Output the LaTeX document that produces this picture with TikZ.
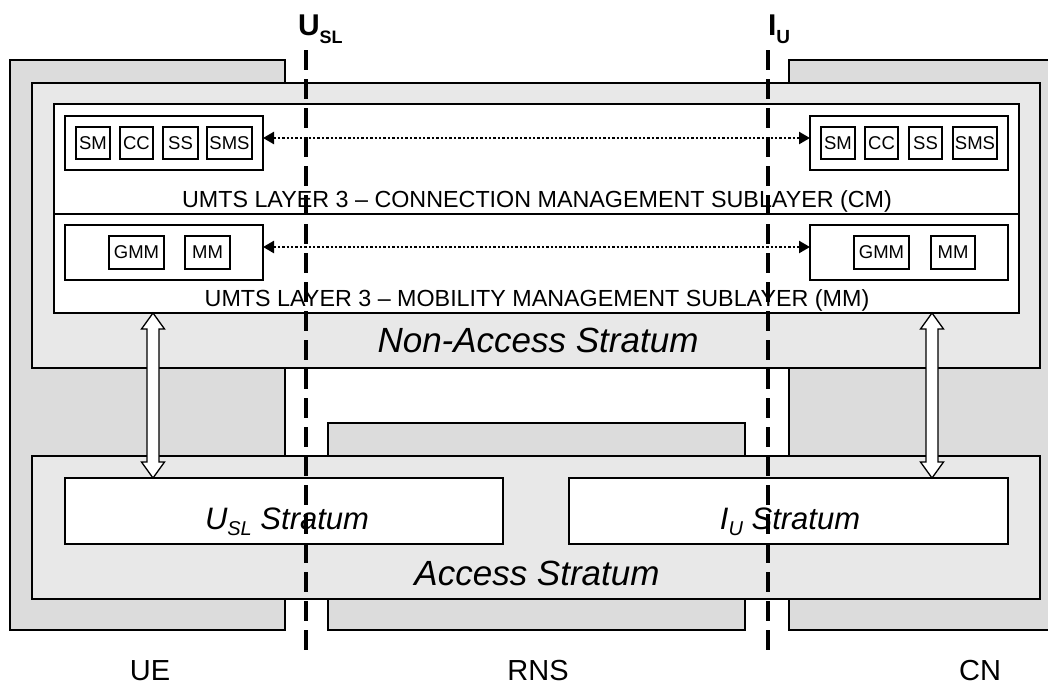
\documentclass[tikz,border=0pt]{standalone}
\usepackage{fontspec}
\setmainfont{Liberation Sans}
\usetikzlibrary{calc,arrows.meta}
\definecolor{outerg}{HTML}{DCDCDC}
\definecolor{innerg}{HTML}{E8E8E8}
\newcommand\hollowarr[2]{%
  \draw[hollow] (#1) -- ($(#1)+(11.5,16)$) -- ($(#1)+(6,16)$) -- ($(#2)+(6,-16)$) -- ($(#2)+(11.5,-16)$) -- (#2)
    -- ($(#2)+(-11.5,-16)$) -- ($(#2)+(-6,-16)$) -- ($(#1)+(-6,16)$) -- ($(#1)+(-11.5,16)$) -- cycle;}
\begin{document}
\begin{tikzpicture}[x=1pt,y=-1pt,
  every node/.style={inner sep=0pt,outer sep=0pt},
  region/.style={draw,line width=2pt,fill=outerg,anchor=north west},
  stratumbox/.style={draw,line width=2pt,fill=innerg,anchor=north west},
  panel/.style={draw,line width=1.4pt,fill=white,anchor=north west},
  ent/.style={draw,line width=1.2pt,fill=white,anchor=north west,minimum height=32pt,font=\fontsize{18.5}{18}\selectfont},
  layertxt/.style={anchor=base,font=\fontsize{23.3}{27}\selectfont},
  bigital/.style={anchor=base,font=\fontsize{35}{40}\selectfont\itshape},
  midital/.style={anchor=base,font=\fontsize{31}{36}\selectfont\itshape},
  place/.style={anchor=base,font=\fontsize{29}{34}\selectfont},
  iftitle/.style={anchor=base west,font=\fontsize{30}{34}\selectfont\bfseries},
  dotarrow/.style={line width=2.4pt,dash pattern=on 2.4pt off 2pt,{Triangle[length=11pt,width=12pt]}-{Triangle[length=11pt,width=12pt]}},
  hollow/.style={draw,line width=1.3pt,fill=white,line join=miter},
  divider/.style={line width=4.7pt,dash pattern=on 20pt off 9pt}]
\useasboundingbox (0,0) rectangle (1048,686);
% domains
\node[region,minimum width=275pt,minimum height=570pt] (ue) at (10,60) {};
\node[region,minimum width=275pt,minimum height=570pt] (cn) at (789,60) {};
\node[region,minimum width=417pt,minimum height=207pt] (rns) at (328,423) {};
% strata
\node[stratumbox,minimum width=1008pt,minimum height=285pt] (nas) at (32,83) {};
\node[stratumbox,minimum width=1008pt,minimum height=143pt] (as) at (32,456) {};
% CM / MM sublayers
\node[panel,minimum width=965pt,minimum height=110pt] (cm) at (54,104) {};
\node[panel,minimum width=965pt,minimum height=99pt] (mm) at (54,214) {};
\node[panel,minimum width=198pt,minimum height=54pt] (cmL) at (65,116) {};
\node[panel,minimum width=198pt,minimum height=54pt] (cmR) at (810,116) {};
\node[panel,minimum width=198pt,minimum height=55pt] (mmL) at (65,225) {};
\node[panel,minimum width=198pt,minimum height=55pt] (mmR) at (810,225) {};
% entities
\node[ent,minimum width=34pt] (smL) at (76,127) {SM};
\node[ent,minimum width=33pt] (ccL) at (120,127) {CC};
\node[ent,minimum width=35pt] (ssL) at (163,127) {SS};
\node[ent,minimum width=45pt] (smsL) at (207,127) {SMS};
\node[ent,minimum width=34pt] (smR) at (821,127) {SM};
\node[ent,minimum width=33pt] (ccR) at (865,127) {CC};
\node[ent,minimum width=33pt] (ssR) at (909,127) {SS};
\node[ent,minimum width=44pt] (smsR) at (953,127) {SMS};
\node[ent,minimum width=55pt,minimum height=33pt] (gmmL) at (109,236) {GMM};
\node[ent,minimum width=45pt,minimum height=33pt] (mmeL) at (185,236) {MM};
\node[ent,minimum width=55pt,minimum height=33pt] (gmmR) at (854,236) {GMM};
\node[ent,minimum width=44pt,minimum height=33pt] (mmeR) at (931,236) {MM};
% labels
\node[layertxt] (cmtxt) at (537,207) {UMTS LAYER 3 – CONNECTION MANAGEMENT SUBLAYER (CM)};
\node[layertxt] (mmtxt) at (537,306) {UMTS LAYER 3 – MOBILITY MANAGEMENT SUBLAYER (MM)};
\node[bigital] (nastxt) at (538,352) {Non-Access Stratum};
% access stratum parts
\node[panel,line width=2pt,minimum width=438pt,minimum height=66pt] (uslst) at (65,478) {};
\node[panel,line width=2pt,minimum width=439pt,minimum height=66pt] (iust) at (569,478) {};
\node[midital] (usltxt) at (287,529) {U\raisebox{-6pt}{\fontsize{20}{20}\selectfont SL} Stratum};
\node[midital] (iutxt) at (790,529) {I\raisebox{-6pt}{\fontsize{20}{20}\selectfont U} Stratum};
\node[bigital] (astxt) at (537,585) {Access Stratum};
% peer arrows
\draw[dotarrow] ([yshift=5pt]cmL.east) -- ([yshift=5pt]cmR.west);
\draw[dotarrow] ([yshift=5.5pt]mmL.east) -- ([yshift=5.5pt]mmR.west);
% hollow double arrows
\coordinate (la1) at (153,313);
\coordinate (la2) at (153,478);
\coordinate (ra1) at (932,313);
\coordinate (ra2) at (932,478);
\hollowarr{la1}{la2}
\hollowarr{ra1}{ra2}
% interface lines
\node[iftitle] (usl) at (298,35) {U\raisebox{-8pt}{\fontsize{18}{18}\selectfont SL}};
\node[iftitle] (iu) at (768,35) {I\raisebox{-8pt}{\fontsize{19}{19}\selectfont U}};
\coordinate (uslA) at (306,50);
\coordinate (uslB) at (306,652);
\coordinate (iuA) at (768,50);
\coordinate (iuB) at (768,652);
\draw[divider] (uslA) -- (uslB);
\draw[divider] (iuA) -- (iuB);
% domain names
\node[place] (uetxt) at (150,680) {UE};
\node[place] (rnstxt) at (538,680) {RNS};
\node[place] (cntxt) at (980,680) {CN};
\end{tikzpicture}
\end{document}
